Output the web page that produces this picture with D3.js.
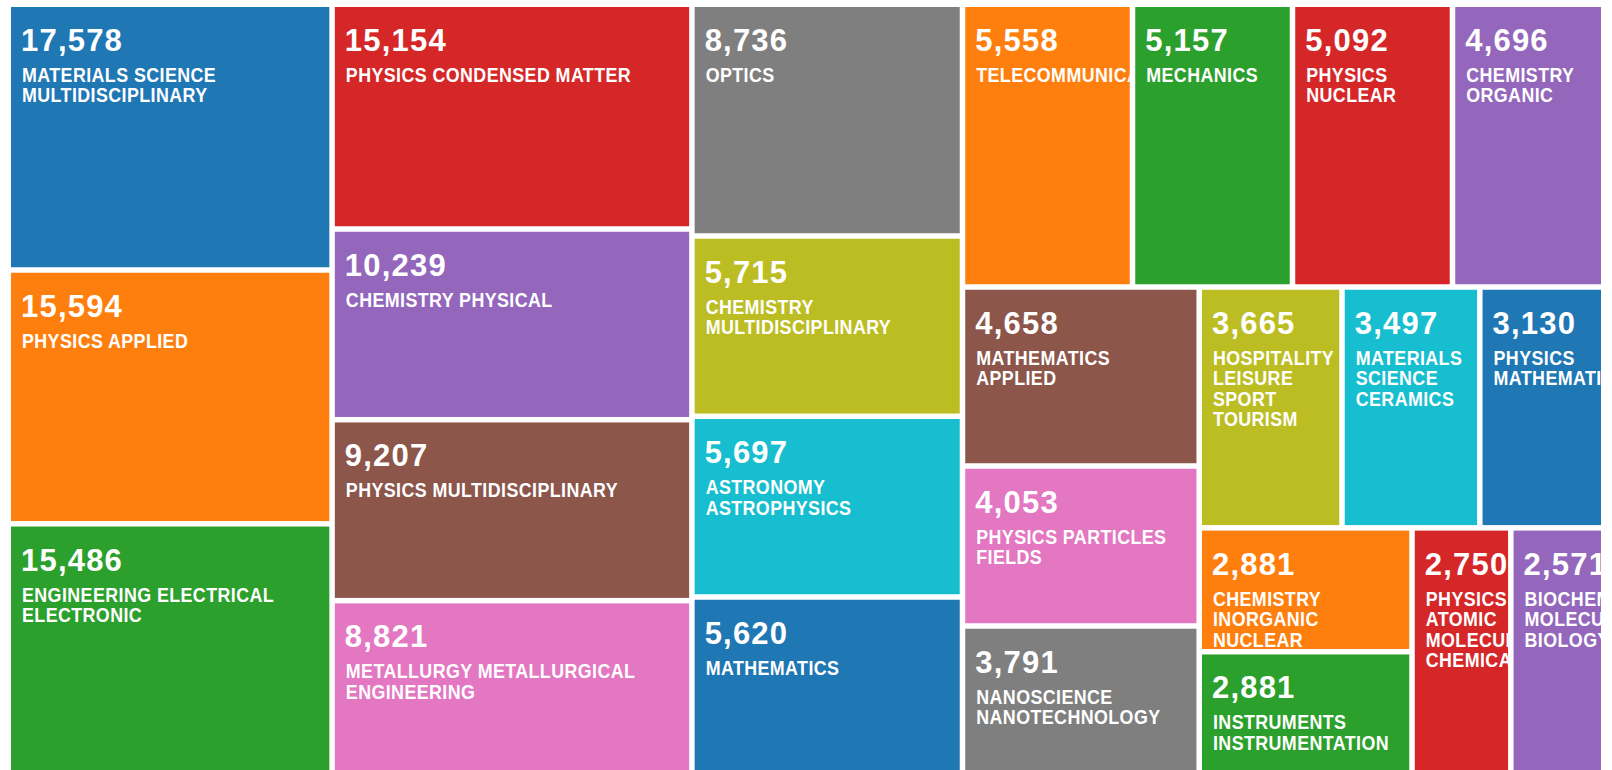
<!DOCTYPE html>
<html>
<head>
<meta charset="utf-8">
<script src="https://cdn.jsdelivr.net/npm/d3@7/dist/d3.min.js"></script>
<style>
    body { margin: 0; background: #fff; overflow: hidden; }
    svg { display: block; }
    .cellValue { font-family: "Liberation Sans", Arial, sans-serif; font-weight: bold; font-size: 31px; fill: #fff; letter-spacing: 1.2px; }
    .cellLabel { font-family: "Liberation Sans", Arial, sans-serif; font-weight: bold; font-size: 21px; fill: #fff; letter-spacing: 0.5px; }
</style>
</head>
<body>
<script>
// subject categories, in drawing order
const categories = [
    'MATERIALS SCIENCE MULTIDISCIPLINARY', 'PHYSICS APPLIED', 'ENGINEERING ELECTRICAL ELECTRONIC',
    'PHYSICS CONDENSED MATTER', 'CHEMISTRY PHYSICAL', 'PHYSICS MULTIDISCIPLINARY',
    'METALLURGY METALLURGICAL ENGINEERING', 'OPTICS', 'CHEMISTRY MULTIDISCIPLINARY',
    'ASTRONOMY ASTROPHYSICS', 'MATHEMATICS', 'TELECOMMUNICATIONS', 'MECHANICS',
    'PHYSICS NUCLEAR', 'CHEMISTRY ORGANIC', 'MATHEMATICS APPLIED', 'PHYSICS PARTICLES FIELDS',
    'NANOSCIENCE NANOTECHNOLOGY', 'HOSPITALITY LEISURE SPORT TOURISM', 'MATERIALS SCIENCE CERAMICS',
    'PHYSICS MATHEMATICAL', 'CHEMISTRY INORGANIC NUCLEAR', 'INSTRUMENTS INSTRUMENTATION',
    'PHYSICS ATOMIC MOLECULAR CHEMICAL', 'BIOCHEMISTRY MOLECULAR BIOLOGY'
];
// record counts printed in each cell
const counts = [
    17578, 15594, 15486, 15154, 10239, 9207, 8821, 8736, 5715, 5697, 5620, 5558, 5157,
    5092, 4696, 4658, 4053, 3791, 3665, 3497, 3130, 2881, 2881, 2750, 2571
];
// tile weights (they are not proportional to the counts)
const weights = [
    86060, 82190, 81590, 80870, 68610, 65110, 63000, 62710, 48790, 48900, 48370, 48070, 45240,
    45240, 42770, 42370, 37870, 35450, 34390, 33190, 29850, 26360, 26400, 24490, 23040
];

let TreemapChart = function ({
                                 width,
                                 height,
                                 margin = {left: 11, top: 7},
                                 gap = 5.5,
                                 data = []
                             }) {
    let master = {};
    master.el = null;
    let graphicopt = {width, height, margin, gap, data};
    // label font is squeezed horizontally to get the narrow look
    const padX = 11, valueY = 44, labelY = 75, lineH = 20.5, squeeze = 0.85;

    master.init = (container) => {
        master.el = container.append('g')
            .attr('class', 'treemapHolder')
            .attr('transform', `translate(${margin.left},${margin.top})`);
    };

    master.draw = () => {
        const {width, height, gap, data} = graphicopt;
        const color = d3.scaleOrdinal(d3.schemeCategory10).domain(data.map(d => d.name));
        const fmt = d3.format(',');

        const root = d3.hierarchy({children: data}).sum(d => d.weight ?? 0);
        d3.treemap()
            .tile(d3.treemapSquarify)
            .size([width, height])
            .paddingInner(gap)(root);

        const cell = master.el.selectAll('g.cell')
            .data(root.leaves(), d => d.data.name)
            .join('g')
            .attr('class', 'cell')
            .attr('transform', d => `translate(${d.x0},${d.y0})`);

        cell.append('clipPath')
            .attr('id', (d, i) => 'clip' + i)
            .append('rect')
            .attr('width', d => d.x1 - d.x0)
            .attr('height', d => d.y1 - d.y0);

        cell.append('rect')
            .attr('width', d => d.x1 - d.x0)
            .attr('height', d => d.y1 - d.y0)
            .attr('fill', d => color(d.data.name));

        const txt = cell.append('g')
            .attr('clip-path', (d, i) => `url(#clip${i})`);

        txt.append('text')
            .attr('class', 'cellValue')
            .attr('x', padX - 1)
            .attr('y', valueY)
            .text(d => fmt(d.data.count));

        txt.append('text')
            .attr('class', 'cellLabel')
            .attr('transform', `scale(${squeeze},1)`)
            .each(function (d) {
                const text = d3.select(this);
                const maxW = (d.x1 - d.x0) - 2 * 12;
                let line = [], lineNo = 0;
                let tspan = text.append('tspan').attr('x', padX / squeeze).attr('y', labelY);
                d.data.name.split(' ').forEach(w => {
                    line.push(w);
                    tspan.text(line.join(' '));
                    if (line.length > 1 && tspan.node().getComputedTextLength() * squeeze > maxW) {
                        line.pop();
                        tspan.text(line.join(' '));
                        line = [w];
                        lineNo++;
                        tspan = text.append('tspan')
                            .attr('x', padX / squeeze)
                            .attr('y', labelY + lineNo * lineH)
                            .text(w);
                    }
                });
            });
    };

    return master;
};

const table = categories.map((name, i) => ({name, count: counts[i], weight: weights[i]}));

const svg = d3.select('body').append('svg')
    .attr('width', 1612)
    .attr('height', 770);

const chart = TreemapChart({width: 1590, height: 766, data: table});
chart.init(svg);
chart.draw();
</script>
</body>
</html>
